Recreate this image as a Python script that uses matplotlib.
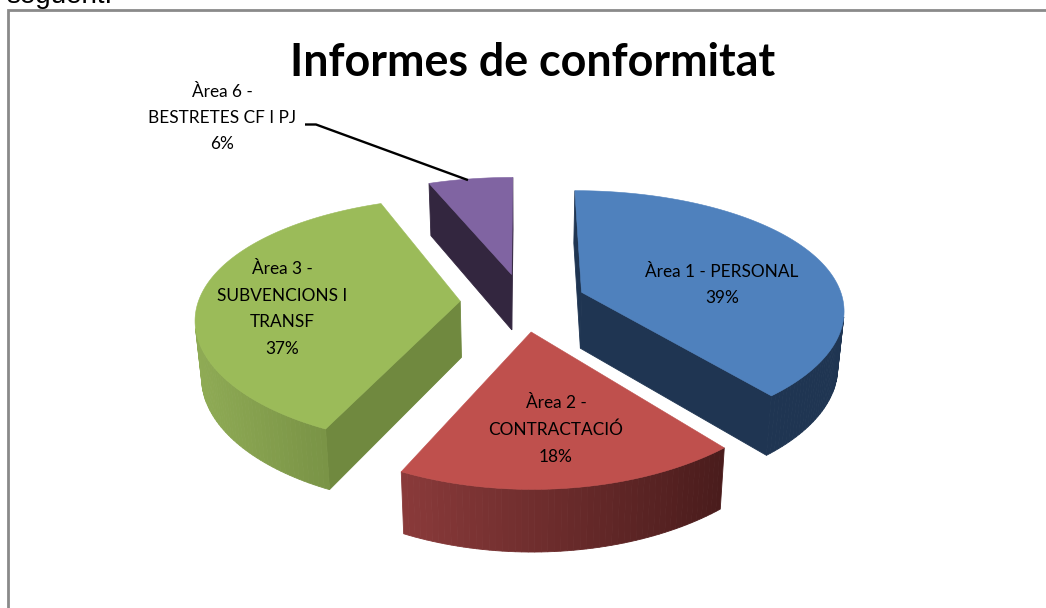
import numpy as np
import matplotlib
matplotlib.use("Agg")
import matplotlib.pyplot as plt
from matplotlib.patches import Polygon
from matplotlib.colors import to_rgb

categories = ["Àrea 1 - PERSONAL", "Àrea 2 -\nCONTRACTACIÓ", "Àrea 3 -\nSUBVENCIONS I\nTRANSF", "Àrea 6 -\nBESTRETES CF I PJ"]
values = [39, 18, 37, 6]
title = "Informes de conformitat"
colors_top = ["#4f81bd", "#bf504d", "#9bbb59", "#8064a2"]
colors_side_left = ["#1f3552", "#8a3a3a", "#8fab55", "#33263f"]
colors_side_right = ["#1f3552", "#4a1c1c", "#70893f", "#33263f"]
colors_radial = ["#1f3552", "#4a1c1c", "#70893f", "#33263f"]
label_pos = [(722, 285), (556, 430), (282, 309), (222, 118)]

W, H = 1046, 608
CX, CY, R, A, B, BX = 523, 302, 262, 121, 0.162, 0.13
EXPLODE = 0.24

def project(u, v):
    return CX + R * u / (1 + BX * v), CY - A * v / (1 + B * v)

def drop(x, y):
    return CX + (x - CX) * 0.98, y + 46 + 0.034 * y

fig = plt.figure(figsize=(W / 100, H / 100), dpi=100, facecolor="white")
ax = fig.add_axes([0, 0, 1, 1])
ax.set_xlim(0, W)
ax.set_ylim(H, 0)
ax.axis("off")

total = sum(values)
start = 0.0
wedge_tops = []
for i, val in enumerate(values):
    sweep = 2 * np.pi * val / total
    mid = start + sweep / 2
    ou, ov = EXPLODE * np.sin(mid), EXPLODE * np.cos(mid)
    t = np.linspace(start, start + sweep, max(int(val * 3), 12))
    us = np.r_[ou, ou + np.sin(t)]
    vs = np.r_[ov, ov + np.cos(t)]
    xs, ys = project(us, vs)
    bx, by = drop(xs, ys)
    n = len(xs)
    xmin, xmax = xs[1:].min(), xs[1:].max()
    c0, c1 = np.array(to_rgb(colors_side_left[i])), np.array(to_rgb(colors_side_right[i]))
    for j in range(n):
        k = (j + 1) % n
        q = np.array([[xs[j], ys[j]], [xs[k], ys[k]], [bx[k], by[k]], [bx[j], by[j]]])
        area = 0.5 * np.sum(q[:, 0] * np.roll(q[:, 1], -1) - np.roll(q[:, 0], -1) * q[:, 1])
        if area >= 0:
            continue
        if j == 0 or k == 0:
            col = colors_radial[i]
        else:
            f = (0.5 * (xs[j] + xs[k]) - xmin) / max(xmax - xmin, 1)
            col = tuple(c0 + (c1 - c0) * np.clip(f, 0, 1))
        ax.add_patch(Polygon(q, closed=True, facecolor=col, edgecolor=col, lw=0.6, zorder=2))
    ax.add_patch(Polygon(np.c_[xs, ys], closed=True, facecolor=colors_top[i], edgecolor=colors_top[i], lw=0.4, zorder=3))
    wedge_tops.append((xs, ys))
    start += sweep

# leader line from the last label to its slice
xs6, ys6 = wedge_tops[3]
ax.plot([305, 316, xs6[len(xs6) // 2]], [124.5, 124.5, ys6[len(ys6) // 2] + 1], color="black", lw=1.7, zorder=4,
        solid_capstyle="butt")

lab_font = ["Lato", "DejaVu Sans"]
for name, val, (x, y) in zip(categories, values, label_pos):
    ax.text(x, y, f"{name}\n{val}%", ha="center", va="center", fontsize=12.4, family=lab_font,
            color="black", linespacing=1.8, zorder=5)

ax.text(533, 63, title, ha="center", va="center", fontsize=32.3, fontweight="bold", family=lab_font, color="black", zorder=5)
ax.text(6, 3, "següent.", ha="left", va="baseline", fontsize=20, family="Liberation Sans", color="black", zorder=5)

# frame (left and top only)
ax.plot([1046, 8, 8], [10, 10, 608], color="#8a8a8a", lw=2, zorder=1, solid_joinstyle="miter", clip_on=False)

fig.savefig("out.png", dpi=100, facecolor="white")
